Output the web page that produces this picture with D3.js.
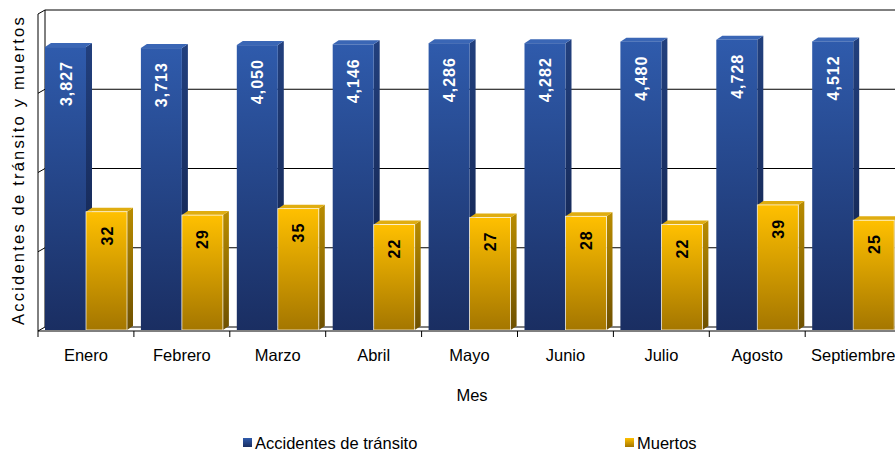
<!DOCTYPE html>
<html><head><meta charset="utf-8">
<script src="https://cdn.jsdelivr.net/npm/d3@7"></script>
<style>body{margin:0;background:#fff}svg{display:block}</style>
</head><body>
<svg id="c" width="895" height="451"></svg>
<script>
const months = ["Enero","Febrero","Marzo","Abril","Mayo","Junio","Julio","Agosto","Septiembre"];
const accidentes = [3827,3713,4050,4146,4286,4282,4480,4728,4512];
const muertos = [32,29,35,22,27,28,22,39,25];
const seriesNames = ["Accidentes de tránsito","Muertos"];
const gridValues = [1,10,100,1000,10000];

const svg = d3.select("#c");
const dx = 6, dy = -4;
const x = d3.scaleBand().domain(months).range([38, 38 + 9*95.9]);
const x1 = d3.scaleBand().domain(seriesNames).range([7, 89]);
const y = d3.scaleLog().domain([1,10000]).range([331,14]);

const defs = svg.append("defs");
function grad(id, c1, c2){
  const g = defs.append("linearGradient").attr("id",id).attr("x1",0).attr("y1",0).attr("x2",0).attr("y2",1);
  g.append("stop").attr("offset","0%").attr("stop-color",c1);
  g.append("stop").attr("offset","100%").attr("stop-color",c2);
}
grad("gBlue","#2f5bac","#1a2e62");
grad("gBlueSide","#22407e","#101e45");
grad("gYel","#ffc000","#a47600");
grad("gYelSide","#b98c00","#6e5000");

// back wall & gridlines
const plotRight = x.range()[1] + 20;
svg.append("line").attr("x1",45).attr("x2",45).attr("y1",y(10000)+dy).attr("y2",y(1)+dy)
  .attr("stroke","#000").attr("stroke-width",1);
svg.selectAll(".grid").data(gridValues).join("line")
  .attr("x1",45).attr("x2",plotRight)
  .attr("y1",d=>y(d)+dy).attr("y2",d=>y(d)+dy)
  .attr("stroke","#000").attr("stroke-width",1);
// left axis with diagonal ticks
svg.append("line").attr("x1",38).attr("x2",38).attr("y1",y(10000)).attr("y2",y(1))
  .attr("stroke","#000").attr("stroke-width",1);
svg.selectAll(".diag").data(gridValues).join("line")
  .attr("x1",38).attr("x2",45).attr("y1",d=>y(d)).attr("y2",d=>y(d)+dy)
  .attr("stroke","#000").attr("stroke-width",1);

// bars
const fmt = d3.format(",");
months.forEach((m,i)=>{
  const items = [
    {s:seriesNames[0], v:accidentes[i], front:"url(#gBlue)", side:"url(#gBlueSide)", top:"#3a66b5", stroke:"none", txt:"#fff"},
    {s:seriesNames[1], v:muertos[i], front:"url(#gYel)", side:"url(#gYelSide)", top:"#e0ad10", stroke:"rgba(255,255,255,0.85)", txt:"#000"}
  ];
  items.forEach(it=>{
    const bx = x(m) + x1(it.s), bw = x1.bandwidth();
    const by = y(it.v), b0 = y(1) - 1;
    const g = svg.append("g");
    g.append("path").attr("d",`M${bx+bw},${by} L${bx+bw+dx},${by+dy} L${bx+bw+dx},${b0+dy} L${bx+bw},${b0} Z`)
      .attr("fill",it.side);
    g.append("path").attr("d",`M${bx},${by} L${bx+dx},${by+dy} L${bx+bw+dx},${by+dy} L${bx+bw},${by} Z`)
      .attr("fill",it.top);
    g.append("rect").attr("x",bx).attr("y",by).attr("width",bw).attr("height",b0-by)
      .attr("fill",it.front).attr("stroke",it.stroke).attr("stroke-width",0.8);
    g.append("text")
      .attr("transform",`translate(${bx+bw/2+6},${by+14}) rotate(-90)`)
      .attr("text-anchor","end")
      .attr("font-family","Liberation Sans, Arial, sans-serif")
      .attr("font-weight","bold").attr("font-size","16px")
      .attr("letter-spacing","1px")
      .attr("fill",it.txt).text(fmt(it.v));
  });
});

// bottom axis
svg.append("line").attr("x1",38).attr("x2",plotRight).attr("y1",331).attr("y2",331)
  .attr("stroke","#000").attr("stroke-width",1);
svg.selectAll(".xt").data(months).join("line")
  .attr("x1",d=>x(d)).attr("x2",d=>x(d)).attr("y1",331).attr("y2",337)
  .attr("stroke","#000").attr("stroke-width",1);
svg.selectAll(".xl").data(months).join("text")
  .attr("x",d=>x(d)+x.bandwidth()/2).attr("y",361)
  .attr("text-anchor","middle")
  .attr("font-family","Liberation Sans, Arial, sans-serif").attr("font-size","16.5px")
  .attr("fill","#000").text(d=>d);

// axis titles
svg.append("text").attr("x",472).attr("y",401).attr("text-anchor","middle")
  .attr("font-family","Liberation Sans, Arial, sans-serif").attr("font-size","16.5px").text("Mes");
svg.append("text").attr("transform","translate(24,170) rotate(-90)").attr("text-anchor","middle")
  .attr("font-family","Liberation Sans, Arial, sans-serif").attr("font-size","16.5px")
  .attr("letter-spacing","2.2px").text("Accidentes de tránsito y muertos");

// legend
const legend = [
  {name:seriesNames[0], fill:"url(#gBlue)", lx:243},
  {name:seriesNames[1], fill:"url(#gYel)", lx:625}
];
legend.forEach(l=>{
  svg.append("rect").attr("x",l.lx).attr("y",438).attr("width",9).attr("height",9).attr("fill",l.fill);
  svg.append("text").attr("x",l.lx+12).attr("y",449)
    .attr("font-family","Liberation Sans, Arial, sans-serif").attr("font-size","16.5px").text(l.name);
});
</script>
</body></html>
